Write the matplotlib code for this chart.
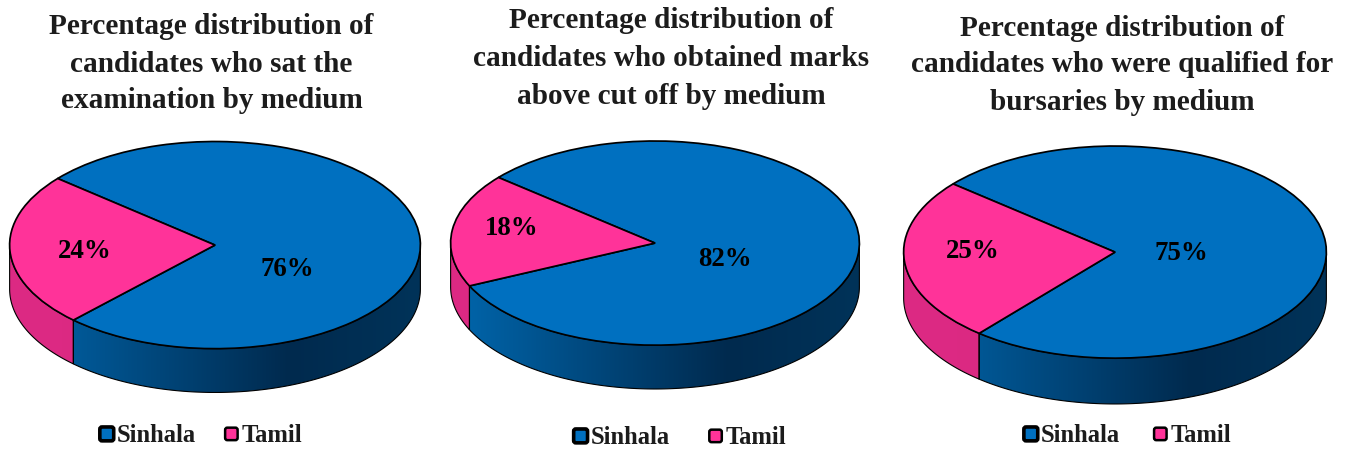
import numpy as np
import matplotlib
matplotlib.use("Agg")
import matplotlib.pyplot as plt
from matplotlib.colors import LinearSegmentedColormap
from matplotlib.legend_handler import HandlerPatch
from matplotlib.patches import FancyBboxPatch, Patch, Polygon

plt.rcParams["font.family"] = ["Liberation Serif", "DejaVu Serif"]

W, H = 1350, 450
mediums = ["Sinhala", "Tamil"]
sat_exam = [76, 24]
above_cutoff = [82, 18]
qualified = [75, 25]
series = [sat_exam, above_cutoff, qualified]
titles = [
    ["Percentage distribution of", "candidates who sat the", "examination by medium"],
    ["Percentage distribution of", "candidates who obtained marks", "above cut off by medium"],
    ["Percentage distribution of", "candidates who were qualified for", "bursaries by medium"],
]

TOP_BLUE, TOP_PINK = "#0070C0", "#FF3399"
START_ANGLE = 140

# layout, in reference pixels
# cx, cy, rx, ry, depth of each disc
discs = [(215, 245, 206, 104, 44), (655, 243, 205, 102.5, 44), (1115, 252, 212, 106.5, 46)]
title_pos = [(211.5, (27, 64, 101)), (671, (21, 58, 96)), (1122, (28, 65, 102))]
label_pos = [[(85, 269), (85, 251)], [(725, 259), (512, 228)], [(1181, 254), (973, 252)]]
label_pos[0][0] = (287, 269)
legend_pos = [(200, 436), (679, 438), (1126.5, 436)]
legend_gap = [1.08, 1.5, 1.28]

blue_wall = LinearSegmentedColormap.from_list(
    "blue_wall", [(0, "#0068B0"), (0.05, "#0062A6"), (0.68, "#002A4E"), (1, "#003359")])
pink_wall = LinearSegmentedColormap.from_list(
    "pink_wall", [(0, "#DD2A84"), (0.5, "#D92880"), (1, "#C82676")])
wall_maps = [blue_wall, pink_wall]


def fx(x):
    return x / W


def fy(y):
    return 1 - y / H


class SquareHandler(HandlerPatch):
    def __init__(self, size, border):
        super().__init__()
        self.size, self.border = size, border

    def create_artists(self, legend, orig, xd, yd, width, height, fontsize, trans):
        s = self.size
        b = FancyBboxPatch((width / 2 - s / 2 - xd, height / 2 - s / 2 - yd), s, s,
                           boxstyle="round,pad=0,rounding_size=1.6",
                           fc=orig.get_facecolor(), ec="black", lw=self.border, transform=trans)
        return [b]


fig = plt.figure(figsize=(W / 100, H / 100), dpi=100, facecolor="white")

for i, values in enumerate(series):
    cx, cy, rx, ry, depth = discs[i]
    ax = fig.add_axes([fx(cx - rx), fy(cy + ry + depth), 2 * rx / W, (2 * ry + depth) / H])
    wedges, _ = ax.pie(values, colors=[TOP_BLUE, TOP_PINK], startangle=START_ANGLE,
                       counterclock=False, radius=1,
                       wedgeprops=dict(edgecolor="black", linewidth=1.25, zorder=5))
    d = depth / ry
    for w, cmap in zip(wedges, wall_maps):
        a0, a1 = max(w.theta1, -180), min(w.theta2, 0)
        t = np.radians(np.linspace(a0, a1, 200))
        top = np.column_stack([np.cos(t), np.sin(t)])
        bot = np.column_stack([np.cos(t[::-1]), np.sin(t[::-1]) - d])
        poly = Polygon(np.vstack([top, bot]), closed=True, fc="none", ec="black", lw=0.8, zorder=3)
        ax.add_patch(poly)
        im = ax.imshow(np.linspace(0, 1, 256)[None, :], cmap=cmap, extent=(-1, 1, -1 - d, 1),
                       aspect="auto", zorder=2, vmin=0, vmax=1)
        im.set_clip_path(poly)
    ax.set_aspect("auto")
    ax.set_xlim(-1.003, 1.003)
    ax.set_ylim(-1 - d - 0.005, 1.005)
    ax.axis("off")

    tx, tys = title_pos[i]
    for line, ty in zip(titles[i], tys):
        fig.text(fx(tx), fy(ty), line, ha="center", va="center", fontsize=21.1,
                 fontweight="bold", color="#1c1c1c")

    for v, (lx, ly) in zip(values, label_pos[i]):
        fig.text(fx(lx), fy(ly), f"{v}%", ha="center", va="center", fontsize=19.4,
                 fontweight="bold", color="black", zorder=10)

    handles = [Patch(fc=TOP_BLUE, label=mediums[0]), Patch(fc=TOP_PINK, label=mediums[1])]
    lx, ly = legend_pos[i]
    fig.legend(handles=handles, loc="center", bbox_to_anchor=(fx(lx), fy(ly)), ncols=2,
               frameon=False, handlelength=0.72, handleheight=0.72,
               handletextpad=0.05, columnspacing=legend_gap[i], borderpad=0, borderaxespad=0,
               prop=dict(family="Liberation Serif", weight="bold", size=17.7),
               labelcolor="#1c1c1c",
               handler_map={handles[0]: SquareHandler(10.0, 2.6),
                            handles[1]: SquareHandler(9.0, 1.8)})

fig.savefig("out.png", dpi=100, facecolor="white")
